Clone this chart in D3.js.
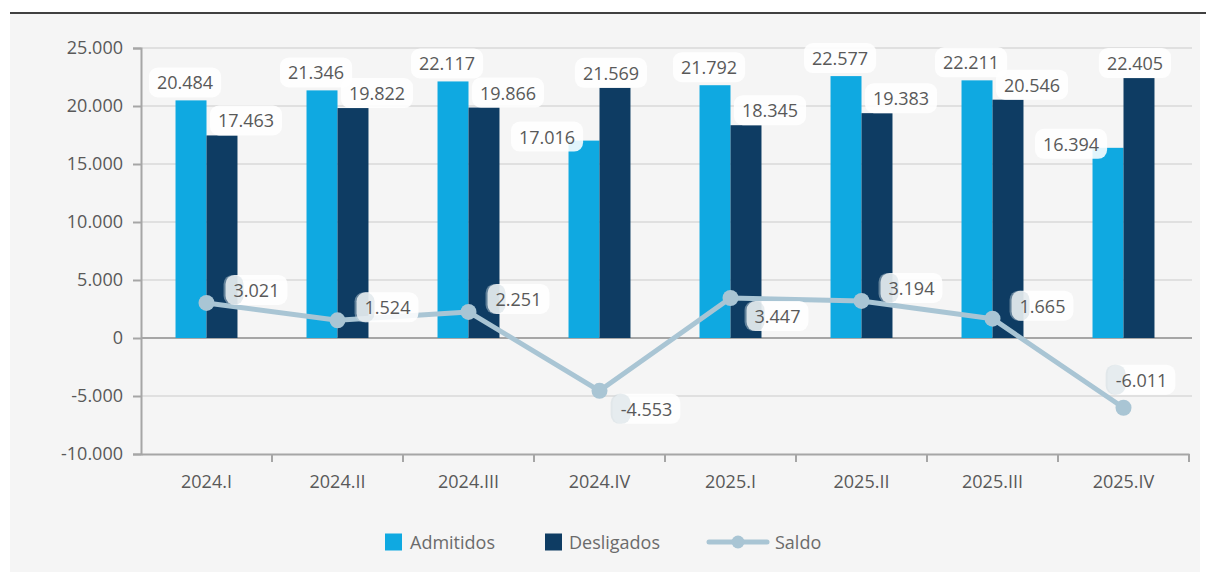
<!DOCTYPE html>
<html><head><meta charset="utf-8">
<script src="https://cdn.jsdelivr.net/npm/d3@7"></script>
<style>
html,body{margin:0;padding:0;background:#fff;}
svg{display:block;font-family:"Open Sans","Noto Sans",sans-serif;}
</style></head>
<body>
<svg id="c" width="1206" height="572"></svg>
<script>
const categories = ["2024.I","2024.II","2024.III","2024.IV","2025.I","2025.II","2025.III","2025.IV"];
const admitidos  = [20484, 21346, 22117, 17016, 21792, 22577, 22211, 16394];
const desligados = [17463, 19822, 19866, 21569, 18345, 19383, 20546, 22405];
const saldo      = [3021, 1524, 2251, -4553, 3447, 3194, 1665, -6011];
const yTicks     = [-10000, -5000, 0, 5000, 10000, 15000, 20000, 25000];
const seriesNames = ["Admitidos","Desligados","Saldo"];
// label placement keywords for the Saldo series
const saldoLabelPlace = ["above","above","above","below","below","above","above","aboveNear"];

const colors = {Admitidos:"#0fa9e1", Desligados:"#0e3c63", Saldo:"#a9c5d4"};
const loc = d3.formatLocale({decimal:",", thousands:".", grouping:[3], currency:["R$",""], minus:"-"});
const fmt = loc.format(",d");

const svg = d3.select("#c");
const W = 1206, H = 572;
const plot = {left:141, right:1189, top:48, bottom:454};

// panel
svg.append("rect").attr("x",10).attr("y",14).attr("width",1190).attr("height",H-14).attr("fill","#f5f5f5");
svg.append("line").attr("x1",10).attr("x2",W).attr("y1",13).attr("y2",13).attr("stroke","#404040").attr("stroke-width",2);

const x = d3.scaleBand().domain(categories).range([plot.left, plot.right]).paddingInner(0).paddingOuter(0);
const y = d3.scaleLinear().domain([-10000, 25000]).range([plot.bottom, plot.top]);
const groupW = x.bandwidth()*0.473;
const x1 = d3.scaleBand().domain(["Admitidos","Desligados"]).range([-groupW/2, groupW/2]);
const cx = c => x(c) + x.bandwidth()/2;

// gridlines
const g = svg.append("g");
g.selectAll("line.grid").data(yTicks.filter(t=>t!==-10000)).join("line")
  .attr("x1",plot.left).attr("x2",plot.right+3)
  .attr("y1",d=>y(d)).attr("y2",d=>y(d))
  .attr("stroke",d=>d===0?"#a6a6a6":"#d9d9d9").attr("stroke-width",d=>d===0?2:1.5);

// y axis
const yAxis = d3.axisLeft(y).tickValues(yTicks).tickFormat(d=>fmt(d)).tickSize(8).tickPadding(10);
const ya = svg.append("g").attr("transform",`translate(${plot.left},0)`).call(yAxis);
ya.attr("font-family",null).attr("font-size",18);
ya.select(".domain").attr("stroke","#a6a6a6").attr("stroke-width",2);
ya.selectAll(".tick line").attr("stroke","#a6a6a6").attr("stroke-width",2);
ya.selectAll("text").attr("fill","#595959").attr("font-size",18);

// x axis at bottom
const xAxis = d3.axisBottom(x).tickSize(0).tickPadding(21);
const xa = svg.append("g").attr("transform",`translate(0,${plot.bottom})`).call(xAxis);
xa.attr("font-family",null).attr("font-size",18);
xa.select(".domain").attr("stroke","#a6a6a6").attr("stroke-width",2);
xa.selectAll("text").attr("fill","#595959").attr("font-size",18);
// category boundary ticks
xa.selectAll("line.bt").data(categories.slice(1).concat(["__end"])).join("line")
  .attr("class","bt")
  .attr("x1",d=>d==="__end"?plot.right:x(d)).attr("x2",d=>d==="__end"?plot.right:x(d))
  .attr("y1",0).attr("y2",8).attr("stroke","#a6a6a6").attr("stroke-width",2);

// bars
const barData = [];
categories.forEach((c,i)=>{
  barData.push({c, s:"Admitidos", v:admitidos[i]});
  barData.push({c, s:"Desligados", v:desligados[i]});
});
svg.append("g").selectAll("rect").data(barData).join("rect")
  .attr("x",d=>cx(d.c)+x1(d.s))
  .attr("width",x1.bandwidth())
  .attr("y",d=>y(Math.max(0,d.v)))
  .attr("height",d=>Math.abs(y(d.v)-y(0)))
  .attr("fill",d=>colors[d.s]);

// saldo line
const line = d3.line().x((d,i)=>cx(categories[i])).y(d=>y(d));
svg.append("path").datum(saldo).attr("d",line).attr("fill","none")
  .attr("stroke",colors.Saldo).attr("stroke-width",5).attr("stroke-linejoin","round");
svg.append("g").selectAll("circle").data(saldo).join("circle")
  .attr("cx",(d,i)=>cx(categories[i])).attr("cy",d=>y(d)).attr("r",8).attr("fill",colors.Saldo);

// labels
const labels = [];
categories.forEach((c,i)=>{
  const a = admitidos[i], dd = desligados[i];
  const ac = cx(c)+x1("Admitidos")+x1.bandwidth()/2;
  const dc = cx(c)+x1("Desligados")+x1.bandwidth()/2;
  if (a >= dd) {
    labels.push({x:ac-6, y:y(a)-18, t:fmt(a)});
    labels.push({x:dc+24, y:y(dd)-15, t:fmt(dd)});
  } else {
    labels.push({x:ac-37, y:y(a)-4, t:fmt(a)});
    labels.push({x:dc-4, y:y(dd)-15, t:fmt(dd)});
  }
  const sx = cx(c), sy = y(saldo[i]);
  const p = saldoLabelPlace[i];
  if (p==="above") labels.push({x:sx+50, y:sy-13, t:fmt(saldo[i]), s:true});
  else if (p==="below") labels.push({x:sx+47, y:sy+18, t:fmt(saldo[i]), s:true});
  else labels.push({x:sx+18, y:sy-28, t:fmt(saldo[i]), s:true});
});
const lg = svg.append("g");
labels.forEach(l=>{
  const t = lg.append("text").attr("x",l.x).attr("y",l.y).attr("text-anchor","middle")
    .attr("dominant-baseline","central").attr("font-size",18).attr("fill","#595959").text(l.t);
  const bb = t.node().getBBox();
  lg.insert("rect", () => t.node())
    .attr("x",bb.x-8).attr("y",bb.y-3).attr("width",bb.width+16).attr("height",bb.height+6)
    .attr("rx",9).attr("fill","#ffffff").attr("opacity",0.88);
  if (l.s) {
    lg.insert("rect", () => t.node())
      .attr("x",bb.x-10).attr("y",bb.y-3).attr("width",20).attr("height",bb.height+6)
      .attr("rx",9).attr("fill","#c9d6dd").attr("opacity",0.45);
  }
});

// legend
const leg = svg.append("g").attr("font-size",18).attr("fill","#6b6b6b");
const ly = 542;
leg.append("rect").attr("x",385).attr("y",ly-8.5).attr("width",17).attr("height",17).attr("fill",colors.Admitidos);
leg.append("text").attr("x",410).attr("y",ly).attr("dominant-baseline","central").attr("fill","#6b6b6b").text(seriesNames[0]);
leg.append("rect").attr("x",545).attr("y",ly-8.5).attr("width",17).attr("height",17).attr("fill",colors.Desligados);
leg.append("text").attr("x",569).attr("y",ly).attr("dominant-baseline","central").attr("fill","#6b6b6b").text(seriesNames[1]);
leg.append("line").attr("x1",709).attr("x2",767).attr("y1",ly).attr("y2",ly).attr("stroke",colors.Saldo).attr("stroke-width",5).attr("stroke-linecap","round");
leg.append("circle").attr("cx",738).attr("cy",ly).attr("r",6.5).attr("fill",colors.Saldo);
leg.append("text").attr("x",775).attr("y",ly).attr("dominant-baseline","central").attr("fill","#6b6b6b").text(seriesNames[2]);
</script>
</body></html>
